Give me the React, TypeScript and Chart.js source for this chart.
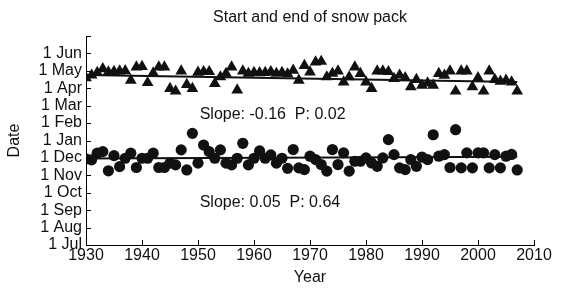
import React, { useEffect, useRef } from "react";
import { Chart, registerables } from "chart.js";

Chart.register(...registerables);

const YEARS = [
  1930, 1931, 1932, 1933, 1934, 1935, 1936, 1937, 1938, 1939,
  1940, 1941, 1942, 1943, 1944, 1945, 1946, 1947, 1948, 1949,
  1950, 1951, 1952, 1953, 1954, 1955, 1956, 1957, 1958, 1959,
  1960, 1961, 1962, 1963, 1964, 1965, 1966, 1967, 1968, 1969,
  1970, 1971, 1972, 1973, 1974, 1975, 1976, 1977, 1978, 1979,
  1980, 1981, 1982, 1983, 1984, 1985, 1986, 1987, 1988, 1989,
  1990, 1991, 1992, 1993, 1994, 1995, 1996, 1997, 1998, 1999,
  2000, 2001, 2002, 2003, 2004, 2005, 2006, 2007,
];

// End of snow pack, in months after 1 Jul (triangles)
const SNOW_END = [
  9.6, 9.75, 9.9, 10.12, 9.93, 9.96, 9.99, 10.0, 9.46, 10.22,
  10.24, 9.32, 9.87, 10.22, 10.22, 8.98, 8.83, 9.99, 9.21, 8.98,
  9.91, 9.95, 9.95, 9.27, 9.65, 9.85, 10.22, 8.89, 9.99, 9.85,
  9.9, 9.88, 9.9, 9.95, 9.85, 9.9, 9.82, 10.03, 9.46, 10.3,
  9.93, 10.5, 10.54, 9.65, 9.85, 9.99, 9.36, 9.65, 10.22, 9.84,
  9.36, 8.98, 9.99, 9.99, 9.95, 9.55, 9.75, 9.6, 9.08, 9.5,
  9.17, 9.3, 9.17, 9.84, 9.74, 9.99, 8.83, 9.99, 9.99, 9.08,
  9.6, 8.83, 9.99, 9.5, 9.4, 9.45, 9.35, 8.83,
];

// Start of snow pack, in months after 1 Jul (circles)
const SNOW_START = [
  4.95, 4.89, 5.27, 5.36, 4.26, 5.13, 4.5, 4.98, 5.27, 4.45,
  4.98, 4.98, 5.27, 4.45, 4.45, 4.7, 4.6, 5.46, 4.31, 6.41,
  4.7, 5.74, 5.36, 4.98, 5.46, 4.7, 4.6, 4.98, 5.84, 4.6,
  4.98, 5.4, 4.98, 5.17, 4.7, 4.98, 4.4, 5.48, 4.43, 4.33,
  5.1, 4.9, 4.62, 4.24, 5.48, 4.62, 5.29, 4.24, 4.81, 4.81,
  5.0, 4.71, 4.52, 5.0, 6.05, 5.19, 4.43, 4.33, 4.9, 4.52,
  5.05, 4.9, 6.33, 5.1, 5.19, 4.45, 6.62, 4.43, 5.29, 4.43,
  5.29, 5.29, 4.43, 5.19, 4.43, 5.1, 5.2, 4.31,
];

// Fitted trend lines (endpoints)
const END_TREND_YEARS = [1930, 2007];
const END_TREND_VALUES = [9.76, 9.36];
const START_TREND_YEARS = [1930, 2007];
const START_TREND_VALUES = [4.96, 5.06];

const MONTH_TICK_LABELS = [
  "1 Jul", "1 Aug", "1 Sep", "1 Oct", "1 Nov", "1 Dec",
  "1 Jan", "1 Feb", "1 Mar", "1 Apr", "1 May", "1 Jun", "",
];
const YEAR_TICKS = [1930, 1940, 1950, 1960, 1970, 1980, 1990, 2000, 2010];

const TITLE = "Start and end of snow pack";
const X_TITLE = "Year";
const Y_TITLE = "Date";
const ANNOTATIONS = [
  { text: "Slope: -0.16  P: 0.02", x: 1950.3, y: 7.5 },
  { text: "Slope: 0.05  P: 0.64", x: 1950.3, y: 2.45 },
];

const FONT = '"Liberation Sans", Arial, Helvetica, sans-serif';
const INK = "#111111";

export default function App() {
  const ref = useRef<HTMLCanvasElement | null>(null);

  useEffect(() => {
    document.body.style.margin = "0";
    const canvas = ref.current;
    if (!canvas) return;

    const matlabPlugin = {
      id: "matlabStyle",
      afterDraw(chart: any) {
        const { ctx, chartArea, scales } = chart;
        const xs = scales.x;
        const ys = scales.y;
        ctx.save();
        ctx.strokeStyle = "#000";
        ctx.lineWidth = 1;
        ctx.beginPath();
        YEAR_TICKS.forEach((v) => {
          const px = Math.round(xs.getPixelForValue(v)) + 0.5;
          ctx.moveTo(px, chartArea.bottom);
          ctx.lineTo(px, chartArea.bottom - 5);
        });
        MONTH_TICK_LABELS.forEach((_, i) => {
          const py = Math.round(ys.getPixelForValue(i)) + 0.5;
          ctx.moveTo(chartArea.left, py);
          ctx.lineTo(chartArea.left + 5, py);
        });
        ctx.stroke();

        ctx.fillStyle = INK;
        ctx.font = `16px ${FONT}`;
        ctx.textAlign = "center";
        ctx.textBaseline = "middle";
        const cx = (chartArea.left + chartArea.right) / 2;
        ctx.fillText(TITLE, cx, 18);
        ctx.fillText(X_TITLE, cx, 278);
        ctx.save();
        ctx.translate(15, (chartArea.top + chartArea.bottom) / 2);
        ctx.rotate(-Math.PI / 2);
        ctx.fillText(Y_TITLE, 0, 0);
        ctx.restore();

        ctx.textAlign = "left";
        ANNOTATIONS.forEach((a) => {
          ctx.fillText(a.text, xs.getPixelForValue(a.x), ys.getPixelForValue(a.y));
        });
        ctx.restore();
      },
    };

    const chart = new Chart(canvas, {
      type: "scatter",
      data: {
        datasets: [
          {
            label: "End trend",
            data: END_TREND_YEARS.map((x, i) => ({ x, y: END_TREND_VALUES[i] })),
            showLine: true,
            borderColor: INK,
            borderWidth: 2,
            pointRadius: 0,
            order: 0,
          },
          {
            label: "Start trend",
            data: START_TREND_YEARS.map((x, i) => ({ x, y: START_TREND_VALUES[i] })),
            showLine: true,
            borderColor: INK,
            borderWidth: 2,
            pointRadius: 0,
            order: 0,
          },
          {
            label: "End of snow pack",
            data: YEARS.map((x, i) => ({ x, y: SNOW_END[i] })),
            pointStyle: "triangle",
            pointRadius: 6.8,
            backgroundColor: INK,
            borderColor: INK,
            borderWidth: 0,
            order: 1,
          },
          {
            label: "Start of snow pack",
            data: YEARS.map((x, i) => ({ x, y: SNOW_START[i] })),
            pointStyle: "circle",
            pointRadius: 5.6,
            backgroundColor: INK,
            borderColor: INK,
            borderWidth: 0,
            order: 1,
          },
        ],
      },
      options: {
        responsive: false,
        animation: false,
        devicePixelRatio: 1,
        layout: { padding: { left: 0, right: 29, top: 36, bottom: 0 } },
        plugins: {
          legend: { display: false },
          title: { display: false },
          tooltip: { enabled: false },
        },
        scales: {
          x: {
            type: "linear",
            min: 1930,
            max: 2010,
            afterFit: (s: any) => {
              s.height = 45;
            },
            afterBuildTicks: (s: any) => {
              s.ticks = YEAR_TICKS.map((v) => ({ value: v }));
            },
            ticks: {
              color: INK,
              font: { family: FONT, size: 16 },
              padding: 1,
              maxRotation: 0,
              callback: (v: any) => String(v),
            },
            grid: { display: true, drawOnChartArea: false, drawTicks: false },
            border: { display: true, color: "#000", width: 1 },
          },
          y: {
            type: "linear",
            min: 0,
            max: 12,
            afterFit: (s: any) => {
              s.width = 86;
            },
            afterBuildTicks: (s: any) => {
              s.ticks = MONTH_TICK_LABELS.map((_, i) => ({ value: i }));
            },
            ticks: {
              color: INK,
              font: { family: FONT, size: 16 },
              padding: 4,
              autoSkip: false,
              callback: (v: any) => MONTH_TICK_LABELS[Math.round(Number(v))] ?? "",
            },
            grid: { display: true, drawOnChartArea: false, drawTicks: false },
            border: { display: true, color: "#000", width: 1 },
          },
        },
      },
      plugins: [matlabPlugin],
    } as any);

    return () => chart.destroy();
  }, []);

  return (
    <div style={{ width: 563, height: 290, background: "#fff" }}>
      <canvas ref={ref} width={563} height={290} style={{ display: "block" }} />
    </div>
  );
}
